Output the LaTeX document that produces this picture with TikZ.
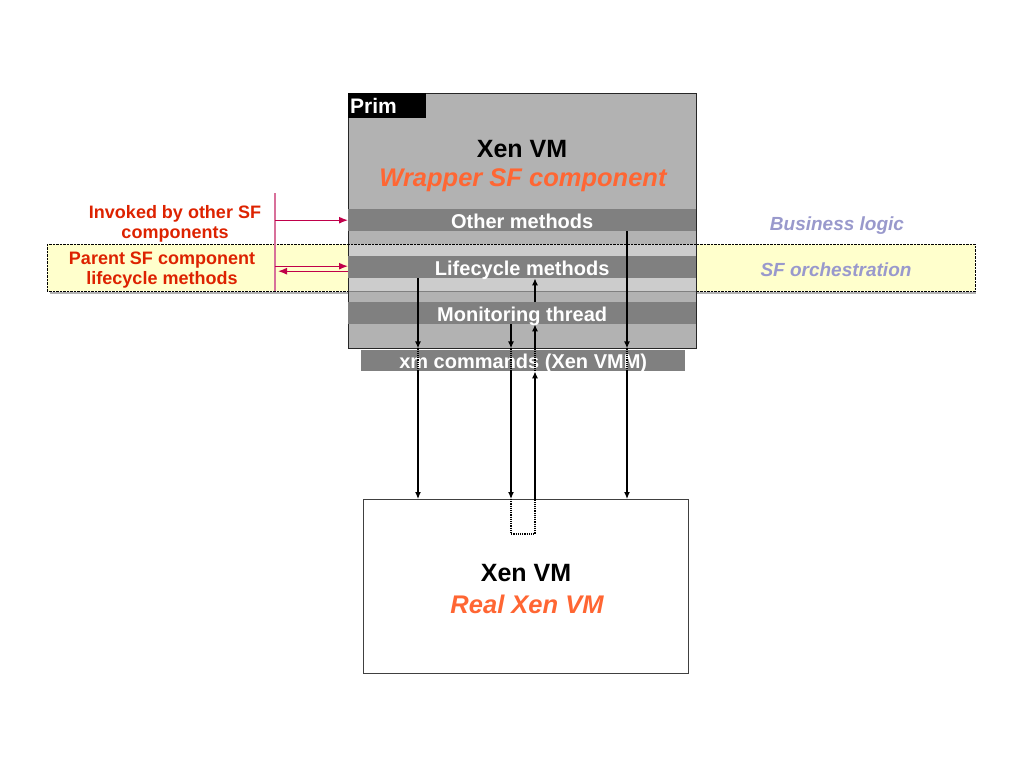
\documentclass[tikz,border=0pt]{standalone}
\usepackage{fontspec}
\setmainfont{Liberation Sans}
\usetikzlibrary{arrows.meta,positioning,calc}
\definecolor{boxgray}{HTML}{B2B2B2}
\definecolor{bargray}{HTML}{808080}
\definecolor{stripgray}{HTML}{CCCCCC}
\definecolor{bandyellow}{HTML}{FFFFCC}
\definecolor{wrapred}{HTML}{FF6633}
\definecolor{labelred}{HTML}{DD2200}
\definecolor{callred}{HTML}{C0004A}
\definecolor{tickpink}{HTML}{D8709A}
\definecolor{layerblue}{HTML}{9999CC}

\begin{document}
\begin{tikzpicture}[
  x=1pt,y=-1pt,
  bar/.style={fill=bargray,text=white,font=\fontsize{20}{22}\selectfont\bfseries,
    minimum width=348,minimum height=22,inner sep=0,text height=17,text depth=1,
    anchor=north west},
  vmtitle/.style={font=\fontsize{25}{28}\selectfont\bfseries},
  vmrole/.style={text=wrapred,font=\fontsize{25.5}{28}\selectfont\bfseries\itshape},
  caller/.style={text=labelred,align=center,font=\fontsize{18}{20}\selectfont\bfseries},
  layer/.style={text=layerblue,font=\fontsize{19}{22}\selectfont\bfseries\itshape},
  flow/.style={-{Latex[length=7pt,width=6pt]},line width=1.2},
  call/.style={-{Latex[length=9pt,width=7pt]},callred,line width=1.2}
]
\useasboundingbox (0,0) rectangle (1024,768);

% orchestration band
\draw[gray!60,line width=2] (50,292.5) -- (976,292.5);
\node[draw=black,densely dotted,fill=bandyellow,minimum width=928,minimum height=47,
  inner sep=0,anchor=north west] (band) at (47,244) {};

% wrapper component
\node[draw=black!85,fill=boxgray,minimum width=348,minimum height=255,
  inner sep=0,anchor=north west] (prim) at (348,93) {};
\fill[stripgray] (348.5,244) rectangle (695.5,291);
\draw[black,densely dotted] (348,244) -- (696,244);
\draw[gray,line width=1] (348.5,291) -- (695.5,291);
\node[fill=black,text=white,font=\fontsize{21}{23}\selectfont\bfseries,
  minimum width=78,minimum height=25,inner sep=2,text width=74,align=left,
  anchor=north west] (primtag) at (348,93) {Prim};
\node[vmtitle] (wraptitle) at (522,149) {Xen VM};
\node[vmrole] (wraprole) at (523,180) {Wrapper SF component};

\node[bar] (other) at (348,209) {Other methods};
\node[bar] (life) at (348,256) {Lifecycle methods};
\node[bar] (monitor) at (348,302) {Monitoring thread};
\node[bar,minimum width=324,minimum height=21] (xm) at (361,350) {xm commands (Xen VMM)};

% real VM
\node[draw=black!75,fill=white,minimum width=325,minimum height=174,
  inner sep=0,anchor=north west] (vm) at (363,499) {};
\node[vmtitle] (realtitle) at (526,573) {Xen VM};
\node[vmrole] (realrole) at (527,604) {Real Xen VM};

% columns of the calls
\coordinate (c1) at (418,0);
\coordinate (c2) at (511,0);
\coordinate (c3) at (535,0);
\coordinate (c4) at (627,0);
\coordinate (tick) at (275,0);

\draw[flow] (life.south -| c1) -- (prim.south -| c1);
\draw[flow] (monitor.south -| c2) -- (prim.south -| c2);
\draw[flow] (other.south -| c4) -- (prim.south -| c4);
\draw[flow] (xm.south -| c1) -- (vm.north -| c1);
\draw[flow] (xm.south -| c2) -- (vm.north -| c2);
\draw[flow] (xm.south -| c4) -- (vm.north -| c4);
\draw[flow] (vm.north -| c3) -- (xm.south -| c3);
\draw[flow] (xm.north -| c3) -- (monitor.south -| c3);
\draw[flow] (monitor.north -| c3) -- (life.south -| c3);
\foreach \c in {c1,c2,c3,c4}
  \draw[densely dotted,line width=1.2] (prim.south -| \c) -- (xm.south -| \c);
\draw[densely dotted,line width=1.2] (vm.north -| c2) -- ++(0,35) -| (vm.north -| c3);

% callers
\draw[tickpink,line width=1.5] (tick |- 0,193) -- (tick |- 0,291);
\draw[call] (other.west -| tick) -- (other.west);
\draw[call] ($(life.west -| tick)+(0,-1)$) -- ($(life.west)+(0,-1)$);
\draw[call] ($(life.west)+(0,4)$) -- ($(life.west -| tick)+(3,4)$);

\node[caller] (invoked) at (175,224) {Invoked by other SF\\components};
\node[caller] (parent) at (162,270) {Parent SF component\\lifecycle methods};

\node[layer] (business) at (837,226) {Business logic};
\node[layer] (orch) at (836,270) {SF orchestration};
\end{tikzpicture}
\end{document}
